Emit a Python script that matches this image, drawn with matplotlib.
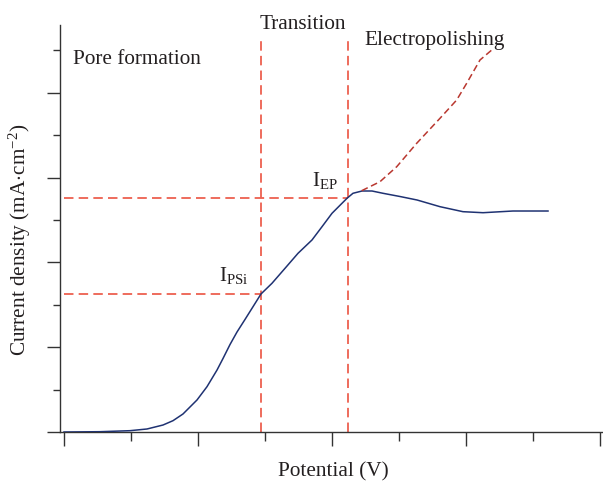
import matplotlib
matplotlib.use("Agg")
import matplotlib.pyplot as plt
from matplotlib.ticker import MultipleLocator, NullFormatter

## Values (x: potential units, y: current density units)
potential = [0.000, 0.537, 0.985, 1.239, 1.478, 1.627, 1.776, 1.985, 2.134, 2.284,
             2.373, 2.478, 2.582, 2.701, 2.821, 2.940, 3.104, 3.299, 3.493, 3.701,
             3.851, 4.000, 4.149, 4.224, 4.313, 4.448, 4.597, 4.761, 5.015, 5.269,
             5.612, 5.955, 6.254, 6.701, 7.224]
current = [0.000, 0.007, 0.031, 0.071, 0.165, 0.267, 0.425, 0.755, 1.068, 1.462,
           1.733, 2.064, 2.358, 2.653, 2.955, 3.255, 3.507, 3.861, 4.215, 4.528,
           4.842, 5.158, 5.394, 5.512, 5.630, 5.684, 5.684, 5.630, 5.554, 5.472,
           5.314, 5.196, 5.172, 5.212, 5.212]

# electropolishing branch (dashed)
ep_potential = [4.443, 4.716, 4.966, 5.264, 5.612, 5.861, 6.010, 6.209, 6.384]
ep_current = [5.691, 5.903, 6.257, 6.809, 7.399, 7.830, 8.224, 8.774, 9.009]

# marker lines
v_psi = 2.936
v_ep = 4.234
i_psi = 3.255
i_ep = 5.519
v_top = 9.32

plt.rcParams['font.family'] = ['Liberation Serif', 'DejaVu Serif']
plt.rcParams['mathtext.fontset'] = 'custom'
plt.rcParams['mathtext.rm'] = 'Liberation Serif'
plt.rcParams['mathtext.it'] = 'Liberation Serif:italic'

W, H = 603, 484
fig = plt.figure(figsize=(W / 100, H / 100), dpi=100)
ax = fig.add_axes([60 / W, 1 - 432 / H, 543 / W, 407 / H])

txt_col = '#231f20'
axis_col = '#333333'
red = '#ea4430'
dark_red = '#b9372f'
navy = '#1f3272'
fs = 15.3

ax.plot(potential, current, color=navy, lw=1.1, solid_joinstyle='round', zorder=3)
ax.plot(ep_potential, ep_current, color=dark_red, lw=1.1, ls=(0, (4.4, 2.4)), zorder=3)

dash = (0, (6.2, 3.4))
ax.plot([v_psi, v_psi], [0, v_top], color=red, lw=1.1, ls=dash, zorder=2)
ax.plot([v_ep, v_ep], [0, v_top], color=red, lw=1.1, ls=dash, zorder=2)
ax.plot([0, v_psi], [i_psi, i_psi], color=red, lw=1.1, ls=dash, zorder=2)
ax.plot([0, v_ep], [i_ep, i_ep], color=red, lw=1.1, ls=dash, zorder=2)

ax.set_xlim((60 - 64) / 67, (603 - 64) / 67)
ax.set_ylim(0, (432 - 25) / 42.4)

for s in ['top', 'right']:
    ax.spines[s].set_visible(False)
for s in ['left', 'bottom']:
    ax.spines[s].set_color(axis_col)
    ax.spines[s].set_linewidth(1.0)

ax.xaxis.set_major_locator(MultipleLocator(2))
ax.xaxis.set_minor_locator(MultipleLocator(1))
ax.yaxis.set_major_locator(MultipleLocator(2))
ax.yaxis.set_minor_locator(MultipleLocator(1))
ax.xaxis.set_major_formatter(NullFormatter())
ax.yaxis.set_major_formatter(NullFormatter())
ax.tick_params(axis='x', which='major', direction='out', length=10, width=1.0, color=axis_col)
ax.tick_params(axis='x', which='minor', direction='out', length=6.5, width=1.0, color=axis_col)
ax.tick_params(axis='y', which='major', direction='out', length=9.5, width=1.0, color=axis_col)
ax.tick_params(axis='y', which='minor', direction='out', length=5, width=1.0, color=axis_col)

ax.text(0.134, 8.68, 'Pore formation', fontsize=fs, color=txt_col, va='baseline', ha='left')
ax.text(3.567, 9.505, 'Transition', fontsize=fs, color=txt_col, va='baseline', ha='center', clip_on=False)
ax.text(5.537, 9.127, 'Electropolishing', fontsize=fs, color=txt_col, va='baseline', ha='center')
ax.text(3.70, 5.80, r'I$_{\mathrm{EP}}$', fontsize=fs, color=txt_col, va='baseline', ha='left')
ax.text(2.313, 3.56, r'I$_{\mathrm{PSi}}$', fontsize=fs, color=txt_col, va='baseline', ha='left')

fig.text(333 / W, 1 - 476 / H, 'Potential (V)', fontsize=fs, color=txt_col, ha='center', va='baseline')
fig.text(20 / W, 1 - 240 / H, r'Current density (mA$\cdot$cm$^{-2}$)', fontsize=fs, color=txt_col,
         ha='center', va='center', rotation=90)

fig.savefig('out.png', dpi=100)
